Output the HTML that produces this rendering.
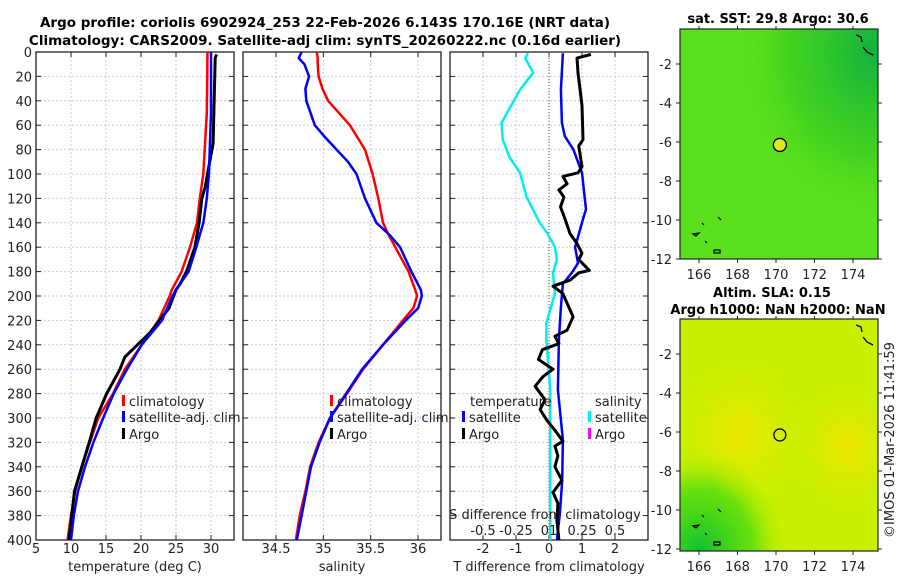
<!DOCTYPE html>
<html><head><meta charset="utf-8"><style>
html,body{margin:0;padding:0;background:#fff;}
svg{display:block;font-family:"DejaVu Sans","Liberation Sans",sans-serif;}
</style></head><body>
<svg id="fig" width="900" height="580" viewBox="0 0 900 580" xmlns="http://www.w3.org/2000/svg">
<defs>
<radialGradient id="sstTR" cx="1" cy="0.1" r="0.75"><stop offset="0" stop-color="#10b040"/><stop offset="0.6" stop-color="#38cc22" stop-opacity="0.7"/><stop offset="1" stop-color="#5ee01a" stop-opacity="0"/></radialGradient>
<radialGradient id="slaBL" cx="0.1" cy="1" r="0.45"><stop offset="0" stop-color="#10c030"/><stop offset="0.6" stop-color="#50dd10" stop-opacity="0.8"/><stop offset="1" stop-color="#c0f000" stop-opacity="0"/></radialGradient>
<radialGradient id="slaY1" cx="0.85" cy="0.55" r="0.3"><stop offset="0" stop-color="#f0e400"/><stop offset="1" stop-color="#d8f000" stop-opacity="0"/></radialGradient>
<radialGradient id="slaY2" cx="0.3" cy="0.5" r="0.35"><stop offset="0" stop-color="#ece600"/><stop offset="1" stop-color="#d8f000" stop-opacity="0"/></radialGradient>
</defs>
<g id="titles">
<text x="325" y="27" text-anchor="middle" font-size="13.5" font-weight="bold">Argo profile: coriolis 6902924_253 22-Feb-2026 6.143S 170.16E (NRT data)</text>
<text x="325" y="45" text-anchor="middle" font-size="13.5" font-weight="bold">Climatology: CARS2009. Satellite-adj clim: synTS_20260222.nc (0.16d earlier)</text>
</g>
<g id="p1"></g><g id="p2"></g><g id="p3"></g><g id="maps"></g>
<text transform="translate(894,440) rotate(-90)" text-anchor="middle" font-size="13" fill="#222">©IMOS 01-Mar-2026 11:41:59</text>
</svg>
<script>
// ---- data ----
const tDepth   = [0,50,100,120,140,160,180,195,200,220,240,260,280,300,320,340,360,380,400];
const tClim    = [29.5,29.4,28.9,28.4,28.0,27.0,25.8,24.4,24.1,22.5,20.1,17.7,16.0,13.9,12.7,11.5,10.6,10.0,9.5];
const tSat     = [30.0,30.0,29.7,29.4,28.9,27.9,26.8,25.0,24.5,23.0,20.1,18.0,16.1,14.6,13.2,12.0,11.0,10.4,10.0];
const argoDepth= [2,5,75,100,110,120,140,160,180,190,195,210,230,250,260,280,300,320,360,400];
const argoTemp = [30.8,30.6,30.3,29.5,29.2,28.7,28.3,27.7,26.5,25.6,25.0,24.0,21.3,17.7,17.0,15.1,13.6,12.6,10.5,9.7];
const sDepth   = [0,5,10,20,30,40,60,70,80,90,100,120,140,150,160,180,195,200,210,220,240,260,280,300,320,340,360,380,400];
const sClim    = [34.93,34.94,34.94,34.95,34.99,35.05,35.28,35.36,35.44,35.48,35.52,35.58,35.63,35.69,35.76,35.90,35.97,35.99,35.95,35.84,35.63,35.42,35.25,35.07,34.95,34.86,34.81,34.75,34.71];
const sSat     = [34.77,34.74,34.80,34.85,34.81,34.82,34.91,35.02,35.14,35.26,35.35,35.44,35.56,35.70,35.81,35.93,36.03,36.04,36.00,35.87,35.63,35.41,35.24,35.07,34.96,34.87,34.82,34.77,34.72];
const dsDepth  = [1,5,17,31,58,72,86,99,119,140,149,160,170,181,198,222,236,277,320,400];
const dsSat    = [-0.16,-0.18,-0.12,-0.22,-0.36,-0.35,-0.30,-0.22,-0.17,-0.07,-0.01,0.045,0.06,0.03,0.045,-0.02,-0.02,0.01,0.01,0.01];
const dtDepth  = [1,31,58,69,80,99,129,137,160,173,181,190,209,236,277,318,351,378,400];
const dtSat    = [0.42,0.36,0.39,0.48,0.74,1.0,1.12,1.03,0.79,0.88,0.69,0.42,0.36,0.30,0.27,0.42,0.40,0.33,0.24];
const daDepth  = [2,5,17,44,72,77,94,99,102,108,113,119,127,138,149,157,165,170,179,181,187,192,198,206,217,228,233,239,244,252,260,266,274,285,293,302,310,319,323,331,340,351,361,370,384,400];
const daArgo   = [1.27,0.85,0.88,1.0,1.03,0.9,1.0,0.88,0.42,0.55,0.3,0.45,0.35,0.5,0.64,0.85,1.0,0.9,1.22,0.9,0.64,0.12,0.42,0.55,0.73,0.55,0.18,0.3,-0.2,-0.32,0.12,-0.18,-0.42,-0.12,-0.27,-0.06,0.18,0.42,0.18,0.27,0.18,0.39,0.12,0.27,0.24,0.30];
const depthTicks = [0,20,40,60,80,100,120,140,160,180,200,220,240,260,280,300,320,340,360,380,400];
const tTicks = [5,10,15,20,25,30];
const sTicks = [34.5,35,35.5,36];
const dTTicks = [-2,-1,0,1,2];
const dSTickLabels = ["-0.5","-0.25","01","0.25","0.5"];
const dSTickVals = [-0.5,-0.25,0,0.25,0.5];
const lonTicks = [166,168,170,172,174];
const latTicks = [-2,-4,-6,-8,-10,-12];
const argoLon = 170.2, argoLat = -6.15;

const NS="http://www.w3.org/2000/svg";
function mk(tag,attrs,parent,txt){const e=document.createElementNS(NS,tag);for(const k in attrs)e.setAttribute(k,attrs[k]);if(txt!==undefined)e.textContent=txt;parent.appendChild(e);return e;}

const Y0=52, Y1=540;
const yD = d => Y0 + (d/400)*(Y1-Y0);

function panel(g, x0, x1, xs, xTicks, xLabels, xTitle, yLabels, name){
  mk('rect',{x:x0,y:Y0,width:x1-x0,height:Y1-Y0,fill:'#fff'},g);
  depthTicks.forEach(d=>{
    const l=mk('line',{x1:x0,x2:x1,y1:yD(d),y2:yD(d),stroke:'#c4c8ea','stroke-width':1,'stroke-dasharray':'2,2'},g);
    
    
    mk('line',{x1:x0,x2:x0+5,y1:yD(d),y2:yD(d),stroke:'#222'},g);
    mk('line',{x1:x1-5,x2:x1,y1:yD(d),y2:yD(d),stroke:'#222'},g);
    if(yLabels){
      const t=mk('text',{x:x0-4,y:yD(d)+5,'text-anchor':'end','font-size':13,fill:'#222'},g,String(d));
      
      
    }
  });
  xTicks.forEach((v,i)=>{
    const x=xs(v);
    const l=mk('line',{x1:x,x2:x,y1:Y0,y2:Y1,stroke:'#c4c8ea','stroke-width':1,'stroke-dasharray':'2,2'},g);
    
    
    mk('line',{x1:x,x2:x,y1:Y0,y2:Y0+5,stroke:'#222'},g);
    mk('line',{x1:x,x2:x,y1:Y1-5,y2:Y1,stroke:'#222'},g);
    if(xLabels){
      const t=mk('text',{x:x,y:553,'text-anchor':'middle','font-size':13,fill:'#222'},g,xLabels[i]);
      
      
    }
  });
  const f=mk('rect',{x:x0,y:Y0,width:x1-x0,height:Y1-Y0,fill:'none',stroke:'#222','stroke-width':1.3},g);
  
  
  const tt=mk('text',{x:(x0+x1)/2,y:571,'text-anchor':'middle','font-size':13,fill:'#222'},g,xTitle);
  
  
}
function line(g, xs, vals, depths, color, w, name){
  const pts=vals.map((v,i)=>xs(v).toFixed(1)+','+yD(depths[i]).toFixed(1)).join(' ');
  const p=mk('polyline',{points:pts,fill:'none',stroke:color,'stroke-width':w,'stroke-linejoin':'round'},g);
  
  
}
function legendItem(g,x,y,color,label,name){
  mk('rect',{x:x,y:y-11,width:3,height:11,fill:color},g);
  const t=mk('text',{x:x+7,y:y,'font-size':13,fill:'#222'},g,label);
  
  
}

const p1=document.getElementById('p1');


const xT = t => 36 + (t-5)*7;
panel(p1,36,234,xT,tTicks,tTicks.map(String),'temperature (deg C)',true,'temperature-panel');
line(p1,xT,tClim,tDepth,'#ff0000',2.5,'temp-climatology-line');
line(p1,xT,argoTemp,argoDepth,'#000000',3,'temp-argo-line');
line(p1,xT,tSat,tDepth,'#0000ff',2.5,'temp-satellite-line');
legendItem(p1,122,406,'#ff0000','climatology','legend-climatology');
legendItem(p1,122,422,'#0000ff','satellite-adj. clim','legend-satellite');
legendItem(p1,122,439,'#000000','Argo','legend-argo');

const p2=document.getElementById('p2');


const xS = s => 276 + (s-34.5)*94.7;
panel(p2,243,441,xS,sTicks,sTicks.map(String),'salinity',false,'salinity-panel');
line(p2,xS,sClim,sDepth,'#ff0000',2.5,'sal-climatology-line');
line(p2,xS,sSat,sDepth,'#0000ff',2.5,'sal-satellite-line');
legendItem(p2,330,406,'#ff0000','climatology','legend-climatology');
legendItem(p2,330,422,'#0000ff','satellite-adj. clim','legend-satellite');
legendItem(p2,330,439,'#000000','Argo','legend-argo');

const p3=document.getElementById('p3');


const xDT = d => 549 + d*33;
const xDS = d => 549 + d*132;
panel(p3,450,648,xDT,dTTicks,dTTicks.map(String),'T difference from climatology',false,'difference-panel');
mk('line',{x1:549,x2:549,y1:Y0,y2:Y1,stroke:'#555533','stroke-width':1,'stroke-dasharray':'1,2'},p3);
line(p3,xDS,dsSat,dsDepth,'#00eeee',2.5,'sal-diff-satellite-line');
line(p3,xDT,dtSat,dtDepth,'#0000ff',2.5,'temp-diff-satellite-line');
line(p3,xDT,daArgo,daDepth,'#000000',3,'temp-diff-argo-line');
const lt=mk('text',{x:470,y:406,'font-size':13,fill:'#222'},p3,'temperature');


legendItem(p3,462,422,'#0000ff','satellite','legend-temp-satellite');
legendItem(p3,462,439,'#000000','Argo','legend-temp-argo');
const ls=mk('text',{x:595,y:406,'font-size':13,fill:'#222'},p3,'salinity');


legendItem(p3,588,422,'#00eeee','satellite','legend-sal-satellite');
legendItem(p3,588,439,'#ff00ff','Argo','legend-sal-argo');
const st=mk('text',{x:545,y:519,'text-anchor':'middle','font-size':13,fill:'#222'},p3,'S difference from climatology');


dSTickVals.forEach((v,i)=>{
  const t=mk('text',{x:xDS(v),y:535,'text-anchor':'middle','font-size':13,fill:'#222'},p3,dSTickLabels[i]);
  
  
});

const mg=document.getElementById('maps');
const MX0=680, MX1=878;
const xLon = l => 699 + (l-166)*19.25;
function mapPanel(top,bottom,latAt2,fillFn,name){
  const g=mk('g',{},mg);
  
  
  const yLat = l => latAt2 + (-2-l)*19.5;
  fillFn(g,top,bottom);
  mk('rect',{x:MX0,y:top,width:MX1-MX0,height:bottom-top,fill:'none',stroke:'#222','stroke-width':1.2},g);
  latTicks.forEach(l=>{
    const y=yLat(l);
    mk('line',{x1:MX0,x2:MX0-4,y1:y,y2:y,stroke:'#222'},g);
    mk('line',{x1:MX1,x2:MX1+4,y1:y,y2:y,stroke:'#222'},g);
    const t=mk('text',{x:MX0-8,y:y+5,'text-anchor':'end','font-size':13,fill:'#222'},g,String(l));
    
    
  });
  lonTicks.forEach(l=>{
    const x=xLon(l);
    mk('line',{x1:x,x2:x,y1:bottom,y2:bottom+4,stroke:'#222'},g);
    mk('line',{x1:x,x2:x,y1:top,y2:top-3,stroke:'#222'},g);
    const t=mk('text',{x:x,y:bottom+20,'text-anchor':'middle','font-size':13,fill:'#222'},g,String(l));
    
    
  });
  mk('path',{d:`M${MX1-22},${top+6} l5,2 l1,5 M${MX1-15},${top+18} l4,5 l6,3`,fill:'none',stroke:'#000','stroke-width':1.3},g);
  mk('path',{d:`M${MX0+13},${bottom-25} l6,-1 l-3,3z M${MX0+34},${bottom-9} h6 v3 h-6z M${MX0+25},${bottom-18} l2,2 M${MX0+38},${bottom-42} l3,3 M${MX0+22},${bottom-36} l2,2`,fill:'none',stroke:'#000','stroke-width':1.2},g);
  return {g,yLat};
}
const m1=mapPanel(29,259,64,(g,t,b)=>{
  mk('rect',{x:MX0,y:t,width:MX1-MX0,height:b-t,fill:'#5ae01c'},g);
  mk('rect',{x:MX0,y:t,width:MX1-MX0,height:b-t,fill:'url(#sstTR)'},g);
},'sst-map');
const c1=mk('circle',{cx:xLon(argoLon),cy:m1.yLat(argoLat),r:6.5,fill:'#e0e818',stroke:'#000','stroke-width':1.3},m1.g);


const m2=mapPanel(319,551,354,(g,t,b)=>{
  mk('rect',{x:MX0,y:t,width:MX1-MX0,height:b-t,fill:'#c8f000'},g);
  mk('rect',{x:MX0,y:t,width:MX1-MX0,height:b-t,fill:'url(#slaY1)'},g);
  mk('rect',{x:MX0,y:t,width:MX1-MX0,height:b-t,fill:'url(#slaY2)'},g);
  mk('rect',{x:MX0,y:t,width:MX1-MX0,height:b-t,fill:'url(#slaBL)'},g);
},'sla-map');
const c2=mk('circle',{cx:xLon(argoLon),cy:m2.yLat(argoLat),r:6,fill:'none',stroke:'#000','stroke-width':1.3},m2.g);


const mt1=mk('text',{x:778,y:23,'text-anchor':'middle','font-size':13,'font-weight':'bold'},mg,'sat. SST: 29.8 Argo: 30.6');


const mt2=mk('text',{x:772,y:297,'text-anchor':'middle','font-size':13,'font-weight':'bold'},mg,'Altim. SLA: 0.15');


const mt3=mk('text',{x:778,y:314,'text-anchor':'middle','font-size':13,'font-weight':'bold'},mg,'Argo h1000: NaN h2000: NaN');


</script>
</body></html>
